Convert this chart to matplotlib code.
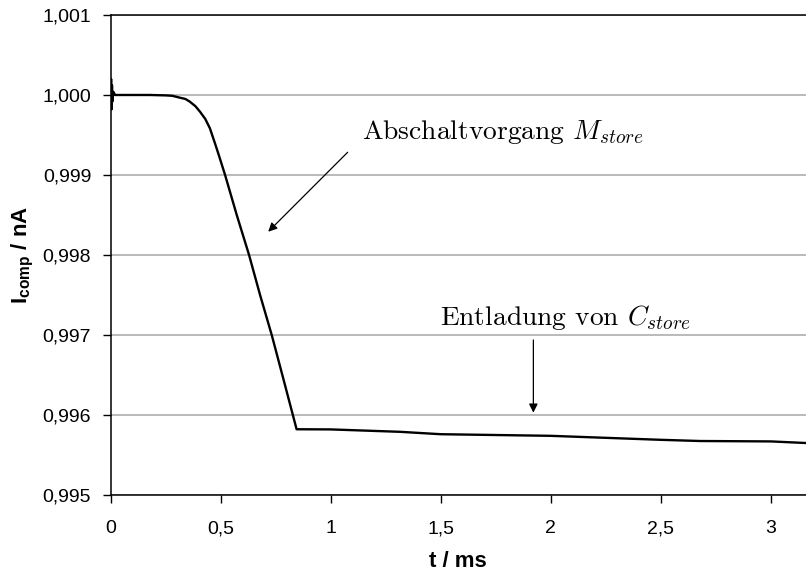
import matplotlib
matplotlib.use('Agg')
import matplotlib.pyplot as plt
from matplotlib.ticker import FuncFormatter

plt.rcParams['font.family'] = ['Liberation Sans', 'DejaVu Sans']
plt.rcParams['mathtext.fontset'] = 'custom'
plt.rcParams['mathtext.rm'] = 'Liberation Sans'
plt.rcParams['mathtext.bf'] = 'Liberation Sans:bold'
plt.rcParams['mathtext.it'] = 'Liberation Sans:italic'

# current trace (t in ms, I in nA)
t_ms = [0.0, 0.002, 0.004, 0.006, 0.008, 0.012, 0.02, 0.1, 0.179, 0.25, 0.28, 0.315, 0.34, 0.36,
        0.385, 0.406, 0.43, 0.451, 0.474, 0.489, 0.52, 0.573, 0.629, 0.679, 0.732, 0.785, 0.845,
        1.0, 1.315, 1.5, 1.997, 2.5, 2.679, 3.0, 3.16]
i_comp = [1.0, 1.0002, 0.99982, 1.00012, 0.99992, 1.00004, 1.0, 1.0, 1.0, 0.999995, 0.99999, 0.999966, 0.99995, 0.999916,
          0.99986, 0.999791, 0.9997, 0.999584, 0.999396, 0.99927, 0.999, 0.9985, 0.998, 0.9975, 0.997, 0.99645, 0.995822,
          0.99582, 0.99579, 0.99576, 0.99574, 0.99569, 0.995675, 0.99567, 0.99565]

x_ticks = [0, 0.5, 1, 1.5, 2, 2.5, 3]
y_ticks = [0.995, 0.996, 0.997, 0.998, 0.999, 1.000, 1.001]

fig = plt.figure(figsize=(8.06, 5.74), dpi=100)
ax = fig.add_axes([0.1373, 0.1376, 0.8627, 0.8363])

ax.plot(t_ms, i_comp, color='black', lw=1.7, zorder=3)

ax.set_xlim(0, 3.16)
ax.set_ylim(0.995, 1.001)
ax.set_xticks(x_ticks)
ax.set_yticks(y_ticks)
ax.xaxis.set_major_formatter(FuncFormatter(lambda v, p: ('%g' % v).replace('.', ',')))
ax.yaxis.set_major_formatter(FuncFormatter(lambda v, p: ('%.3f' % v).replace('.', ',')))
ax.tick_params(axis='both', labelsize=14, direction='out', length=6, width=1, color='black')
ax.tick_params(axis='x', pad=12)
ax.tick_params(axis='y', pad=8)

ax.grid(axis='y', color='#b4b4b4', lw=1.3, zorder=0)
ax.spines['right'].set_visible(False)
for s in ['left', 'bottom', 'top']:
    ax.spines[s].set_color('black')
    ax.spines[s].set_linewidth(1.1)

ax.set_xlabel('t / ms', fontsize=16, fontweight='bold', labelpad=10)
ax.set_ylabel(r'I$_{\mathbf{comp}}$ / nA', fontsize=16, fontweight='bold', labelpad=5)

arrow = dict(arrowstyle='-|>', lw=0.9, color='black', mutation_scale=13, shrinkA=0, shrinkB=0)
ax.annotate('', xy=(0.716, 0.998291), xytext=(1.077, 0.999284), arrowprops=arrow)
ax.annotate('', xy=(1.921, 0.996029), xytext=(1.921, 0.996938), arrowprops=arrow)
ax.text(1.142, 0.999446, r'Abschaltvorgang $M_{store}$', fontsize=19.8, family='cmr10',
        math_fontfamily='cm', ha='left', va='baseline')
ax.text(1.497, 0.997125, r'Entladung von $C_{store}$', fontsize=19.8, family='cmr10',
        math_fontfamily='cm', ha='left', va='baseline')

fig.savefig('out.png', dpi=100)
